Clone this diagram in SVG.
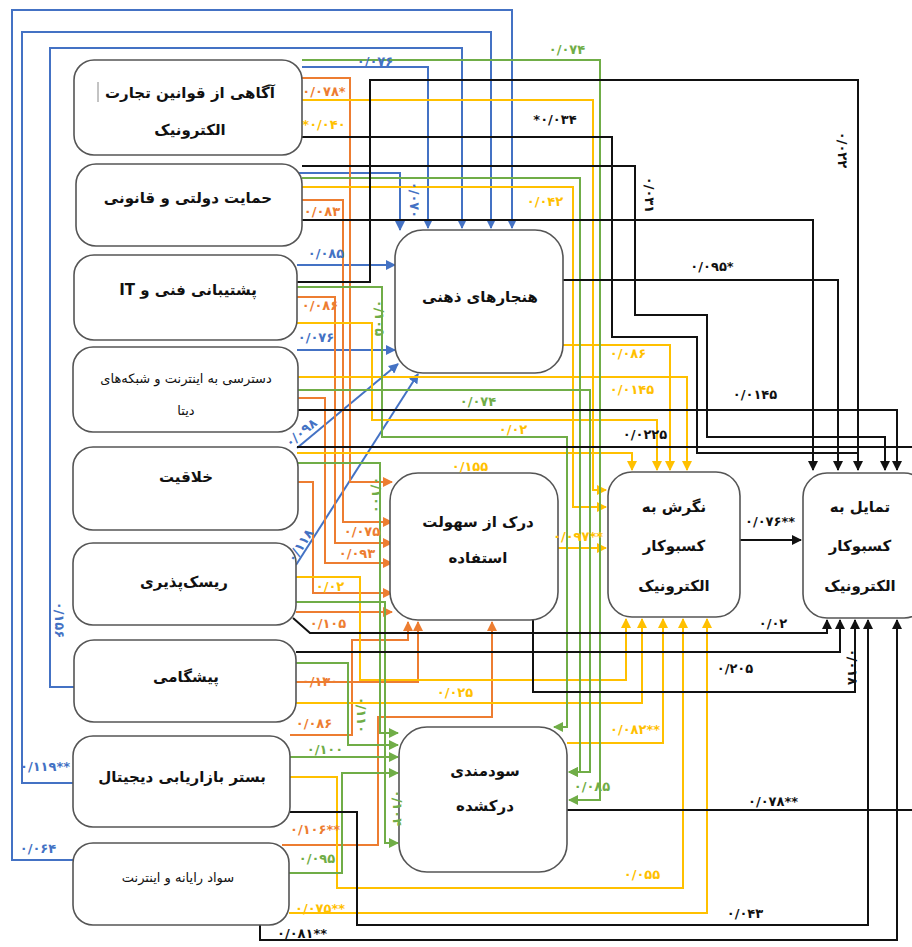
<svg xmlns="http://www.w3.org/2000/svg" width="912" height="947" viewBox="0 0 912 947">
<style>
.n{fill:#fff;stroke:#555;stroke-width:1.6}
.t{font-family:"DejaVu Sans",sans-serif;font-weight:bold;font-size:15px;fill:#111;text-anchor:middle}
.ts{font-family:"DejaVu Sans",sans-serif;font-size:13px;fill:#111;text-anchor:middle}
.e{fill:none;stroke-width:2}
.b{stroke:#4472C4}.o{stroke:#ED7D31}.y{stroke:#FFC000}.g{stroke:#70AD47}.k{stroke:#111}
.l{font-family:"DejaVu Sans",sans-serif;font-weight:bold;font-size:13px;text-anchor:middle}
.lb{fill:#4472C4}.lo{fill:#ED7D31}.ly{fill:#FFC000}.lg{fill:#70AD47}.lk{fill:#111}
</style>
<defs>
<marker id="ab" viewBox="0 0 10 10" refX="9" refY="5" markerWidth="5" markerHeight="5" orient="auto"><path d="M0,0L10,5L0,10z" fill="#4472C4"/></marker>
<marker id="ao" viewBox="0 0 10 10" refX="9" refY="5" markerWidth="5" markerHeight="5" orient="auto"><path d="M0,0L10,5L0,10z" fill="#ED7D31"/></marker>
<marker id="ay" viewBox="0 0 10 10" refX="9" refY="5" markerWidth="5" markerHeight="5" orient="auto"><path d="M0,0L10,5L0,10z" fill="#FFC000"/></marker>
<marker id="ag" viewBox="0 0 10 10" refX="9" refY="5" markerWidth="5" markerHeight="5" orient="auto"><path d="M0,0L10,5L0,10z" fill="#70AD47"/></marker>
<marker id="ak" viewBox="0 0 10 10" refX="9" refY="5" markerWidth="5" markerHeight="5" orient="auto"><path d="M0,0L10,5L0,10z" fill="#111"/></marker>
</defs>
<rect width="912" height="947" fill="#fff"/>

<g id="connectors">
<path class="e b" marker-end="url(#ab)" d="M73 860H12V10H512V228"/>
<path class="e b" marker-end="url(#ab)" d="M73 783H22V32H491V228"/>
<path class="e b" marker-end="url(#ab)" d="M74 687H50V48H462V228"/>
<path class="e b" marker-end="url(#ab)" d="M302 67H428V228"/>
<path class="e b" marker-end="url(#ab)" d="M297 173H400V230"/>
<path class="e b" marker-end="url(#ab)" d="M297 265H395"/>
<path class="e b" marker-end="url(#ab)" d="M297 350H395"/>
<path class="e b" marker-end="url(#ab)" d="M297 448L398 364"/>
<path class="e b" marker-end="url(#ab)" d="M296 565L418 374"/>
<path class="e o" marker-end="url(#ao)" d="M302 78H350V482H392"/>
<path class="e o" marker-end="url(#ao)" d="M302 200H343V522H392"/>
<path class="e o" marker-end="url(#ao)" d="M297 297H335V543H392"/>
<path class="e o" marker-end="url(#ao)" d="M298 398H325V563H392"/>
<path class="e o" marker-end="url(#ao)" d="M297 482H313V593H392"/>
<path class="e o" marker-end="url(#ao)" d="M296 612H392"/>
<path class="e o" marker-end="url(#ao)" d="M296 682H418V622"/>
<path class="e o" marker-end="url(#ao)" d="M290 735H352V640H408V622"/>
<path class="e o" marker-end="url(#ao)" d="M282 845H378V717H492V622"/>
<path class="e y" marker-end="url(#ay)" d="M302 100H593V490H606"/>
<path class="e y" marker-end="url(#ay)" d="M302 187H573V507H606"/>
<path class="e y" marker-end="url(#ay)" d="M563 345H670V470"/>
<path class="e y" marker-end="url(#ay)" d="M298 377H687V470"/>
<path class="e y" marker-end="url(#ay)" d="M297 323H372V420H657V470"/>
<path class="e y" marker-end="url(#ay)" d="M297 453H632V470"/>
<path class="e y" marker-end="url(#ay)" d="M557 548H606"/>
<path class="e y" marker-end="url(#ay)" d="M296 577H360V680H626V619"/>
<path class="e y" marker-end="url(#ay)" d="M296 703H642V619"/>
<path class="e y" marker-end="url(#ay)" d="M567 743H663V619"/>
<path class="e y" marker-end="url(#ay)" d="M290 777H337V888H683V619"/>
<path class="e y" marker-end="url(#ay)" d="M289 913H707V619"/>
<path class="e g" marker-end="url(#ag)" d="M302 60H600V800H569"/>
<path class="e g" marker-end="url(#ag)" d="M302 178H580V772H569"/>
<path class="e g" marker-end="url(#ag)" d="M297 287H382V437H567V727H554"/>
<path class="e g" marker-end="url(#ag)" d="M298 390H590V772H569"/>
<path class="e g" marker-end="url(#ag)" d="M297 463H380V733H398"/>
<path class="e g" marker-end="url(#ag)" d="M296 602H385V843H398"/>
<path class="e g" marker-end="url(#ag)" d="M296 663H348V745H398"/>
<path class="e g" marker-end="url(#ag)" d="M290 757H398"/>
<path class="e g" marker-end="url(#ag)" d="M289 873H342V773H398"/>
<path class="e k" marker-end="url(#ak)" d="M297 282H370V80H858V470"/>
<path class="e k" d="M302 137H612V337H697V453H858"/>
<path class="e k" marker-end="url(#ak)" d="M302 166H635V315H707V437H885V470"/>
<path class="e k" marker-end="url(#ak)" d="M302 220H813V470"/>
<path class="e k" marker-end="url(#ak)" d="M563 280H838V470"/>
<path class="e k" marker-end="url(#ak)" d="M298 410H897V470"/>
<path class="e k" d="M297 447H912"/>
<path class="e k" marker-end="url(#ak)" d="M740 540H801"/>
<path class="e k" marker-end="url(#ak)" d="M293 618L310 633H827V620"/>
<path class="e k" marker-end="url(#ak)" d="M296 652H840V620"/>
<path class="e k" marker-end="url(#ak)" d="M533 620V692H855V620"/>
<path class="e k" d="M567 810H912"/>
<path class="e k" marker-end="url(#ak)" d="M290 812H357V925H868V620"/>
<path class="e k" marker-end="url(#ak)" d="M260 925V940H897V620"/>
</g>

<g id="n1"><rect class="n" x="74" y="60" width="228" height="95" rx="20"/><line x1="98" y1="82" x2="98" y2="102" stroke="#888" stroke-width="1"/><text class="t" direction="rtl" x="190" y="98">آگاهی از قوانین تجارت</text><text class="t" direction="rtl" x="190" y="135">الکترونیک</text></g>
<g id="n2"><rect class="n" x="76" y="164" width="226" height="82" rx="20"/><text class="t" direction="rtl" x="188" y="203">حمایت دولتی و قانونی</text></g>
<g id="n3"><rect class="n" x="74" y="255" width="223" height="85" rx="20"/><text class="t" direction="rtl" x="188" y="295">پشتیبانی فنی و IT</text></g>
<g id="n4"><rect class="n" x="73" y="347" width="225" height="85" rx="20"/><text class="ts" direction="rtl" x="186" y="383">دسترسی به اینترنت و شبکه‌های</text><text class="ts" direction="rtl" x="186" y="415">دیتا</text></g>
<g id="n5"><rect class="n" x="73" y="447" width="225" height="83" rx="20"/><text class="t" direction="rtl" x="186" y="482">خلاقیت</text></g>
<g id="n6"><rect class="n" x="73" y="543" width="223" height="82" rx="20"/><text class="t" direction="rtl" x="184" y="587">ریسک‌پذیری</text></g>
<g id="n7"><rect class="n" x="74" y="640" width="222" height="82" rx="20"/><text class="t" direction="rtl" x="186" y="682">پیشگامی</text></g>
<g id="n8"><rect class="n" x="73" y="736" width="217" height="91" rx="20"/><text class="t" direction="rtl" x="182" y="782">بستر بازاریابی دیجیتال</text></g>
<g id="n9"><rect class="n" x="73" y="843" width="216" height="82" rx="20"/><text class="ts" direction="rtl" x="178" y="882">سواد رایانه و اینترنت</text></g>
<g id="n10"><rect class="n" x="395" y="230" width="168" height="143" rx="28"/><text class="t" direction="rtl" x="480" y="302">هنجارهای ذهنی</text></g>
<g id="n11"><rect class="n" x="390" y="473" width="168" height="147" rx="28"/><text class="t" direction="rtl" x="478" y="527">درک از سهولت</text><text class="t" direction="rtl" x="478" y="563">استفاده</text></g>
<g id="n12"><rect class="n" x="399" y="727" width="168" height="145" rx="28"/><text class="t" direction="rtl" x="485" y="776">سودمندی</text><text class="t" direction="rtl" x="485" y="811">درکشده</text></g>
<g id="n13"><rect class="n" x="608" y="472" width="132" height="145" rx="24"/><text class="t" direction="rtl" x="674" y="512">نگرش به</text><text class="t" direction="rtl" x="674" y="551">کسبوکار</text><text class="t" direction="rtl" x="674" y="591">الکترونیک</text></g>
<g id="n14"><rect class="n" x="803" y="473" width="125" height="145" rx="24"/><text class="t" direction="rtl" x="860" y="512">تمایل به</text><text class="t" direction="rtl" x="860" y="551">کسبوکار</text><text class="t" direction="rtl" x="860" y="591">الکترونیک</text></g>

<g id="labels">
<text class="l lb" x="375" y="66">۰/۰۷۶</text>
<text class="l lb" transform="translate(410 200) rotate(90)">۰/۰۷۰</text>
<text class="l lb" x="326" y="258">۰/۰۸۵</text>
<text class="l lb" x="316" y="342">۰/۰۷۶</text>
<text class="l lb" transform="translate(304 436) rotate(-40)">۰/۰۹۸</text>
<text class="l lb" transform="translate(304 548) rotate(-57)">۰/۱۱۸</text>
<text class="l lb" transform="translate(55 620) rotate(90)">۰/۱۵۶</text>
<text class="l lb" x="45" y="771">۰/۱۱۹**</text>
<text class="l lb" x="38" y="853">۰/۰۶۴</text>
<text class="l lo" x="324" y="96">۰/۰۷۸*</text>
<text class="l lo" x="322" y="216">۰/۰۸۳</text>
<text class="l lo" x="320" y="310">۰/۰۸۶</text>
<text class="l lo" x="362" y="536">۰/۰۷۵</text>
<text class="l lo" x="357" y="558">۰/۰۹۳</text>
<text class="l lo" x="328" y="628">۰/۱۰۵</text>
<text class="l lo" x="320" y="686">۰/۱۳۰</text>
<text class="l lo" x="314" y="728">۰/۰۸۶</text>
<text class="l lo" x="315" y="834">۰/۱۰۶**</text>
<text class="l ly" x="324" y="129">*۰/۰۴۰</text>
<text class="l ly" x="545" y="206">۰/۰۴۲</text>
<text class="l ly" x="628" y="358">۰/۰۸۶</text>
<text class="l ly" x="632" y="394">۰/۰۱۴۵</text>
<text class="l ly" x="513" y="434">۰/۰۲</text>
<text class="l ly" x="470" y="471">۰/۱۵۵</text>
<text class="l ly" x="578" y="541">۰/۰۹۷**</text>
<text class="l ly" x="330" y="591">۰/۰۲</text>
<text class="l ly" x="455" y="697">۰/۰۲۵</text>
<text class="l ly" x="635" y="734">۰/۰۸۲**</text>
<text class="l ly" x="642" y="879">۰/۰۵۵</text>
<text class="l ly" x="320" y="913">۰/۰۷۵**</text>
<text class="l lg" x="567" y="54">۰/۰۷۴</text>
<text class="l lg" x="478" y="406">۰/۰۷۴</text>
<text class="l lg" transform="translate(375 318) rotate(90)">۰/۱۰۵</text>
<text class="l lg" transform="translate(372 495) rotate(90)">۰/۱۰۰</text>
<text class="l lg" transform="translate(357 715) rotate(90)">۰/۱۱۰</text>
<text class="l lg" x="325" y="754">۰/۱۰۰</text>
<text class="l lg" transform="translate(393 808) rotate(90)">۰/۱۰۴</text>
<text class="l lg" x="592" y="791">۰/۰۸۵</text>
<text class="l lg" x="317" y="863">۰/۰۹۵</text>
<text class="l lk" x="555" y="124">*۰/۰۳۴</text>
<text class="l lk" transform="translate(838 150) rotate(90)">۰/۰۲۲</text>
<text class="l lk" transform="translate(645 195) rotate(90)">۰/۰۳۱</text>
<text class="l lk" x="712" y="271">۰/۰۹۵*</text>
<text class="l lk" x="755" y="399">۰/۰۱۴۵</text>
<text class="l lk" x="645" y="439">۰/۰۲۲۵</text>
<text class="l lk" x="770" y="526">۰/۰۷۶**</text>
<text class="l lk" x="773" y="628">۰/۰۲</text>
<text class="l lk" x="735" y="673">۰/۲۰۵</text>
<text class="l lk" transform="translate(848 667) rotate(90)">۰/۰۱۸</text>
<text class="l lk" x="773" y="806">۰/۰۷۸**</text>
<text class="l lk" x="745" y="918">۰/۰۴۳</text>
<text class="l lk" x="302" y="938">۰/۰۸۱**</text>
</g>
</svg>
